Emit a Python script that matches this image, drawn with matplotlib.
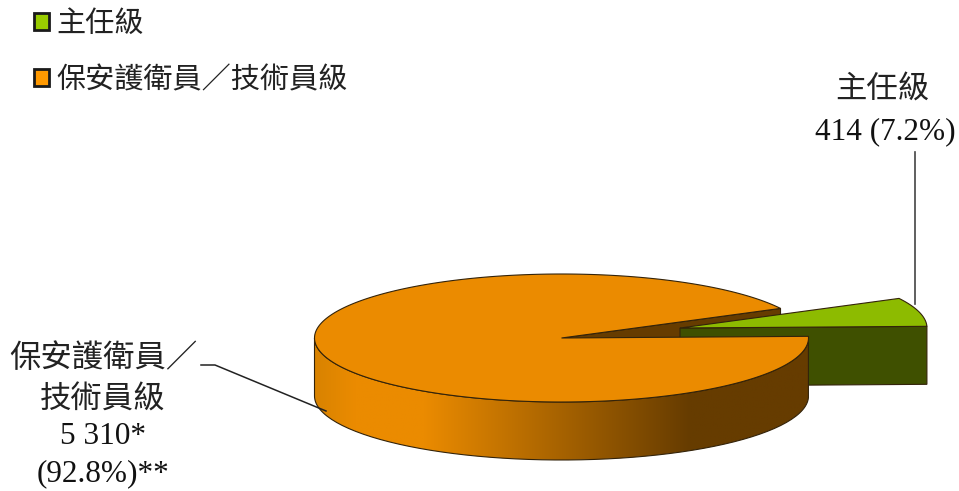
"""Staff grade pie with an exploded wedge, drawn as an extruded ellipse."""
import matplotlib

matplotlib.use("Agg")

import matplotlib.patches as mpatches
import matplotlib.pyplot as plt
import numpy as np
from matplotlib.colors import LinearSegmentedColormap
from matplotlib.path import Path

GRADES = ["主任級", "保安護衛員／技術員級"]
COUNTS = [414, 5310]
SHARES = ["7.2%", "92.8%"]

FONTS = ["Liberation Serif", "Noto Sans CJK TC"]
LEGEND_COLORS = ["#99CC00", "#FF9900"]
TOP_GREEN = "#8DBB00"
SIDE_GREEN = "#3F5000"
TOP_ORANGE = "#EB8B00"
SIDE_ORANGE = "#663C00"
EDGE = "#33230A"

# pie geometry, in pixels
CX, CY = 561.5, 338
RX, RY = 247, 64
DEPTH = 58
EXPLODE = (118.5, -10)
START = 1.5


def ell(cx, cy, deg):
    a = np.radians(deg)
    return cx + RX * np.cos(a), cy - RY * np.sin(a)


def arc(cx, cy, a0, a1, n=120):
    return np.column_stack(ell(cx, cy, np.linspace(a0, a1, n)))


plt.rcParams["font.family"] = FONTS

fig = plt.figure(figsize=(9.59, 4.91), dpi=100)
ax = fig.add_axes([0, 0, 1, 1])
ax.set_xlim(0, 959)
ax.set_ylim(491, 0)
ax.axis("off")

sweep = 360 * COUNTS[0] / sum(COUNTS)
a0, a1 = START, START + sweep

# cut face of the large slice, seen through the gap
ex, ey = ell(CX, CY, a1)
ax.add_patch(plt.Polygon([(CX, CY), (ex, ey), (ex, ey + DEPTH), (CX, CY + DEPTH)],
                         fc=SIDE_ORANGE, ec=EDGE, lw=0.8, zorder=1))

# exploded slice
gx, gy = CX + EXPLODE[0], CY + EXPLODE[1]
rx0, ry0 = ell(gx, gy, a0)
ax.add_patch(plt.Polygon([(gx, gy), (rx0, ry0), (rx0, ry0 + DEPTH), (gx, gy + DEPTH)],
                         fc=SIDE_GREEN, ec=EDGE, lw=0.8, zorder=2))
ax.add_patch(plt.Polygon(np.vstack([[(gx, gy)], arc(gx, gy, a0, a1)]),
                         fc=TOP_GREEN, ec=EDGE, lw=0.8, zorder=3))

# front wall of the large slice with its shading
rim_top = arc(CX, CY, 180, 360 + a0)
rim_low = rim_top[::-1] + [0, DEPTH]
rim = Path(np.vstack([rim_top, rim_low, rim_top[:1]]))
rim_patch = mpatches.PathPatch(rim, fc="none", ec=EDGE, lw=0.8, zorder=5)
ax.add_patch(rim_patch)
shade = LinearSegmentedColormap.from_list(
    "rim",
    [(0, "#D98300"), (0.08, TOP_ORANGE), (0.22, TOP_ORANGE), (0.76, SIDE_ORANGE), (1, SIDE_ORANGE)],
)
grad = ax.imshow(np.linspace(0, 1, 256)[None, :], cmap=shade, aspect="auto", zorder=4,
                 extent=(CX - RX, CX + RX, CY + RY + DEPTH, CY - RY))
grad.set_clip_path(rim_patch)
ax.set_xlim(0, 959)
ax.set_ylim(491, 0)

# top of the large slice
ax.add_patch(plt.Polygon(np.vstack([[(CX, CY)], arc(CX, CY, a1, 360 + a0, 300)]),
                         fc=TOP_ORANGE, ec=EDGE, lw=0.8, zorder=6))

# leader lines
ax.plot([915, 915], [152, 304], color="#444444", lw=1.2, zorder=3)
ax.plot([201, 215, 326], [365, 365, 411], color="#222222", lw=1.1, zorder=7)

# data labels
cjk = dict(ha="center", va="center", fontsize=22.6, color="#222222", fontweight="light")
num = dict(ha="center", va="center", fontsize=22.5, color="#111111")
ax.text(882, 91, GRADES[0], **cjk)
ax.text(885, 132, f"{COUNTS[0]} ({SHARES[0]})", **num)
head, tail = GRADES[1].split("／")
ax.text(103, 359, head + "／", **cjk)
ax.text(103, 401, tail, **cjk)
ax.text(103, 437, f"{COUNTS[1] // 1000} {COUNTS[1] % 1000}*", **num)
ax.text(103, 474, f"({SHARES[1]})**", **num)

handles = [mpatches.Patch(fc=c, ec="#1A1A1A", lw=2) for c in LEGEND_COLORS]
ax.legend(handles, GRADES, loc="upper left", bbox_to_anchor=(34 / 959, 1 - 11 / 491), frameon=False,
          fontsize=21, handlelength=0.5, handleheight=0.5, handletextpad=0.27,
          labelspacing=0.99, borderpad=0, borderaxespad=0, labelcolor="#222222",
          prop=dict(size=21, weight="light"))

fig.savefig("out.png", dpi=100)
